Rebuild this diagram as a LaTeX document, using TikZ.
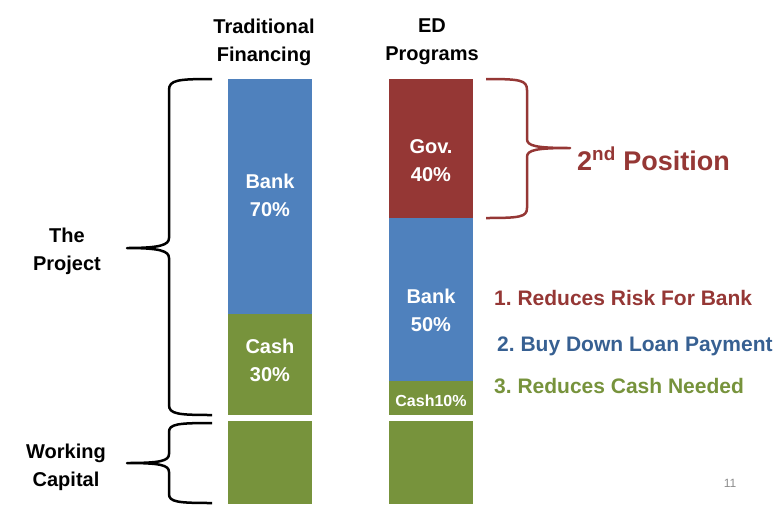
\documentclass[tikz,border=0pt]{standalone}
\usepackage{fontspec}
\setmainfont{Liberation Sans}
\frenchspacing
\definecolor{bankblue}{HTML}{4F81BD}
\definecolor{govred}{HTML}{953735}
\definecolor{cashgreen}{HTML}{77933C}
\definecolor{loanblue}{HTML}{376092}
\definecolor{pagegray}{HTML}{8C8C8C}

\begin{document}
\begin{tikzpicture}[x=1pt, y=-1pt,
    bar/.style ={rectangle, minimum width=84pt, inner sep=0pt},
    bartext/.style ={text=white, font=\bfseries\fontsize{20}{28}\selectfont, align=center},
    heading/.style ={font=\bfseries\fontsize{20}{28}\selectfont, align=center},
    item/.style ={anchor=base west, inner sep=0pt, font=\bfseries\fontsize{21}{24}\selectfont},
    brace/.style ={line width=2.5pt, line join=round}]
   \useasboundingbox (0,0) rectangle (784,512);

   % headings
   \node[heading] (trad) at (264,42) {Traditional\\Financing};
   \node[heading] (ed)   at (432,42) {ED\\Programs};
   \node[heading] (project) at (67,251) {The\\Project};
   \node[heading] (capital) at (66,467) {Working\\Capital};

   % traditional financing
   \node[bar, fill=bankblue, minimum height=235pt]  (bankA) at (270,196.5) {};
   \node[bar, fill=cashgreen, minimum height=101pt] (cashA) at (270,364.5) {};
   \node[bar, fill=cashgreen, minimum height=83pt]  (wcA)   at (270,462.5) {};
   \node[bartext] (bankAtext) at (270,195) {Bank\\70\%};
   \node[bartext] (cashAtext) at (270,360) {Cash\\30\%};

   % ED programs
   \node[bar, fill=govred, minimum height=139pt]   (govB)  at (431,148.5) {};
   \node[bar, fill=bankblue, minimum height=163pt] (bankB) at (431,299.5) {};
   \node[bar, fill=cashgreen, minimum height=34pt] (cashB) at (431,398) {};
   \node[bar, fill=cashgreen, minimum height=83pt] (wcB)   at (431,462.5) {};
   \node[bartext] (govBtext)  at (431,161) {Gov.\\40\%};
   \node[bartext] (bankBtext) at (431,310) {Bank\\50\%};
   \node[bartext, anchor=base, font=\bfseries\fontsize{16}{18}\selectfont] (cashBtext) at (431,406) {Cash10\%};

   % braces
   \draw[brace] (212,79) .. controls (178,79) and (169,80) .. (169,90) -- (169,238)
      .. controls (169,245) and (160,248) .. (127,248)
      .. controls (160,248) and (169,251) .. (169,258) -- (169,405)
      .. controls (169,414) and (178,415) .. (212,415);
   \draw[brace] (212,423) .. controls (178,423) and (169,424) .. (169,432) -- (169,454)
      .. controls (169,461) and (160,463) .. (127,463)
      .. controls (160,463) and (169,465) .. (169,472) -- (169,494)
      .. controls (169,502) and (178,503) .. (212,503);
   \draw[brace, govred] (486,79) .. controls (520,79) and (527,80) .. (527,90) -- (527,139)
      .. controls (527,146) and (536,148) .. (570,148)
      .. controls (536,148) and (527,150) .. (527,157) -- (527,208)
      .. controls (527,217) and (520,218) .. (486,218);

   \node[item, text=govred, font=\bfseries\fontsize{27}{30}\selectfont] (second) at (577,170) {2\textsuperscript{nd} Position};

   % benefits
   \node[item, text=govred]    (risk) at (494,305) {1. Reduces Risk For Bank};
   \node[item, text=loanblue]  (loan) at (497,351) {2. Buy Down Loan Payment};
   \node[item, text=cashgreen] (cash) at (494,393) {3. Reduces Cash Needed};

   \node[anchor=base, text=pagegray, font=\fontsize{12}{14}\selectfont] (page) at (730,487) {11};
\end{tikzpicture}
\end{document}
